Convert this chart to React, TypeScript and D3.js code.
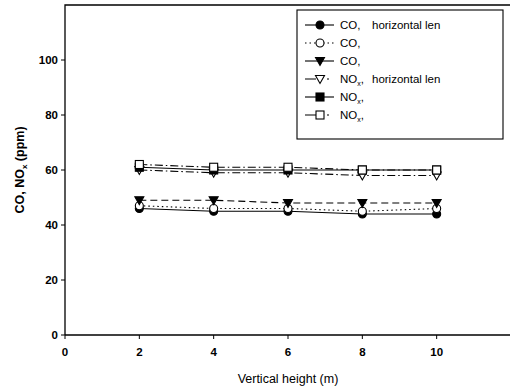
import React from "react";
import * as d3 from "d3";

const heights = [2, 4, 6, 8, 10];
const coHorizontal = [46, 45, 45, 44, 44];
const coOpen = [47, 46, 46, 45, 46];
const coTriangle = [49, 49, 48, 48, 48];
const noxHorizontal = [60, 59, 59, 58, 58];
const noxSquare = [61, 60, 60, 60, 60];
const noxOpen = [62, 61, 61, 60, 60];
const xTicks = [0, 2, 4, 6, 8, 10];
const yTicks = [0, 20, 40, 60, 80, 100];

type Sym = "circle" | "triangle" | "square";
const series: { name: string; sub: boolean; extra: string; values: number[]; sym: Sym; filled: boolean; dash: string; legDash: string }[] = [
  { name: "CO,", sub: false, extra: "horizontal len", values: coHorizontal, sym: "circle", filled: true, dash: "", legDash: "" },
  { name: "CO,", sub: false, extra: "", values: coOpen, sym: "circle", filled: false, dash: "1.5,3", legDash: "1.5,3" },
  { name: "CO,", sub: false, extra: "", values: coTriangle, sym: "triangle", filled: true, dash: "7,4", legDash: "" },
  { name: "NO", sub: true, extra: "horizontal len", values: noxHorizontal, sym: "triangle", filled: false, dash: "8,3,1.5,3", legDash: "11,11,2,20" },
  { name: "NO", sub: true, extra: "", values: noxSquare, sym: "square", filled: true, dash: "", legDash: "" },
  { name: "NO", sub: true, extra: "", values: noxOpen, sym: "square", filled: false, dash: "8,3,1.5,3", legDash: "11,11,2,20" },
];

function Marker({ sym, filled, x, y }: { sym: Sym; filled: boolean; x: number; y: number }) {
  const fill = filled ? "#000" : "#fff";
  if (sym === "circle") return <circle cx={x} cy={y} r={4} fill={fill} stroke="#000" strokeWidth={1.1} />;
  if (sym === "square") return <rect x={x - 4} y={y - 4} width={8} height={8} fill={fill} stroke="#000" strokeWidth={1.1} />;
  return <path d={`M${x - 4.5},${y - 3.5}L${x + 4.5},${y - 3.5}L${x},${y + 4.5}Z`} fill={fill} stroke="#000" strokeWidth={1.1} />;
}

export default function App() {
  const W = 510, H = 392;
  const left = 65, right = 511, top = 5, bottom = 335;
  const x = d3.scaleLinear().domain([0, 12]).range([left, right]);
  const y = d3.scaleLinear().domain([0, 120]).range([bottom, top]);
  const line = d3.line<[number, number]>().x(d => x(d[0])).y(d => y(d[1]));
  const font = "Liberation Sans, Arial, sans-serif";
  const legX = 297, legY = 10, legW = 206, legH = 129;
  return (
    <svg width={W} height={H} style={{ position: "absolute", left: 0, top: 0, background: "#fff" }} fontFamily={font}>
      <rect x={0} y={0} width={W} height={H} fill="#fff" />
      <path d={`M${left},${bottom}L${left},${top}L${right},${top}`} fill="none" stroke="#000" strokeWidth={1.3} />
      <line x1={left} x2={right} y1={bottom} y2={bottom} stroke="#000" strokeWidth={1.3} />
      {yTicks.map(t => (
        <g key={"y" + t}>
          <line x1={left - 4} x2={left} y1={y(t)} y2={y(t)} stroke="#000" strokeWidth={1} />
          <text x={left - 7} y={y(t)} dy="0.35em" textAnchor="end" fontSize={11.5} fontWeight="bold">{t}</text>
        </g>
      ))}
      {xTicks.map(t => (
        <g key={"x" + t}>
          <line x1={x(t)} x2={x(t)} y1={bottom} y2={bottom + 4} stroke="#000" strokeWidth={1} />
          <text x={x(t)} y={bottom + 21} textAnchor="middle" fontSize={11.5} fontWeight="bold">{t}</text>
        </g>
      ))}
      <text x={(left + right) / 2} y={383} textAnchor="middle" fontSize={12.5}>Vertical height  (m)</text>
      <text transform={`translate(24,${(top + bottom) / 2}) rotate(-90)`} textAnchor="middle" fontSize={12.5} fontWeight="bold">
        CO, NO<tspan fontSize={8} dy={3}>x</tspan><tspan dy={-3}> (ppm)</tspan>
      </text>
      {series.map((s, i) => {
        const pts = heights.map((h, j) => [h, s.values[j]] as [number, number]);
        return (
          <g key={"s" + i}>
            <path d={line(pts) || ""} fill="none" stroke="#000" strokeWidth={1.1} strokeDasharray={s.dash} />
            {pts.map((p, j) => <Marker key={j} sym={s.sym} filled={s.filled} x={x(p[0])} y={y(p[1])} />)}
          </g>
        );
      })}
      <rect x={legX} y={legY} width={legW} height={legH} fill="#fff" stroke="#000" strokeWidth={1.1} />
      {series.map((s, i) => {
        const ry = 25 + i * 18;
        return (
          <g key={"l" + i}>
            <line x1={305} x2={334} y1={ry} y2={ry} stroke="#000" strokeWidth={1.1} strokeDasharray={s.legDash} />
            <Marker sym={s.sym} filled={s.filled} x={320} y={ry} />
            <text x={340} y={ry} dy="0.35em" fontSize={11.5}>
              {s.sub ? (<>{s.name}<tspan fontSize={7} dy={3}>x</tspan><tspan dy={-3}>,</tspan></>) : s.name}
            </text>
            {s.extra && <text x={372} y={ry} dy="0.35em" fontSize={11.5}>{s.extra}</text>}
          </g>
        );
      })}
    </svg>
  );
}
